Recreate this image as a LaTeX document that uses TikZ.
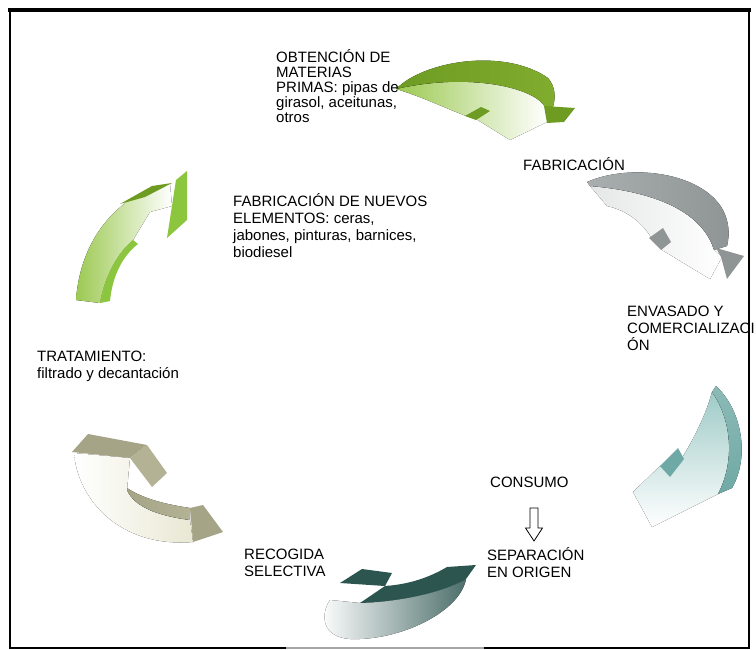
\documentclass[tikz,border=0pt]{standalone}
\usepackage{fontspec}
\setmainfont{Liberation Sans}
\usetikzlibrary{positioning}
\definecolor{leafTop}{HTML}{6E9B22}
\definecolor{leafTopR}{HTML}{80AD2E}
\definecolor{leafLight}{HTML}{9CC952}
\definecolor{leafBright}{HTML}{8CC63F}
\definecolor{stoneTop}{HTML}{A9AEAE}
\definecolor{stoneDark}{HTML}{8F9595}
\definecolor{tealSide}{HTML}{6FA9A5}
\definecolor{tealLight}{HTML}{9FCBC7}
\definecolor{tealDeep}{HTML}{2C5550}
\definecolor{khakiTop}{HTML}{A6A487}
\definecolor{khakiSide}{HTML}{B4B294}
\definecolor{khakiPale}{HTML}{E9E8D4}

\begin{document}
\begin{tikzpicture}[x=1pt, y=-1pt,
        lbl/.style={anchor=north west, inner sep=0pt, align=left, font=\fontsize{15}{17}\selectfont},
        tight/.style={font=\fontsize{15}{15}\selectfont}]
        \useasboundingbox (0,0) rectangle (756,650);
        \fill[white] (0,0) rectangle (756,650);

        % Green arrow at the top
        \fill[left color=leafLight, right color=white] (396,89) .. controls (470,72) and (535,88) .. (546,106) -- (547,122) -- (510,140) -- (476,119) -- (466,116) .. controls (445,108) and (420,96) .. (396,89) -- cycle;
        \fill[left color=leafTop, right color=leafTopR] (396,89) .. controls (425,60) and (505,48) .. (548,78) .. controls (555,86) and (556,97) .. (553,107) -- (545,107) .. controls (535,88) and (470,72) .. (396,89) -- cycle;
        \fill[leafTop] (544,106) -- (575,108) -- (564,122) -- (547,123) -- cycle;
        \fill[leafTop] (465,116) -- (481,107) -- (490,111) -- (476,120) -- cycle;

        % Grey arrow
        \fill[left color=stoneTop!30, right color=white] (590,186) .. controls (660,192) and (703,214) .. (714,250) -- (722,257) -- (710,279) -- (662,250) -- (651,237) .. controls (640,220) and (625,210) .. (607,206) -- cycle;
        \fill[left color=stoneTop, right color=stoneDark] (587,182) .. controls (630,163) and (702,172) .. (723,210) .. controls (729,222) and (730,234) .. (727,246) -- (714,250) .. controls (703,214) and (660,192) .. (590,186) -- cycle;
        \fill[stoneDark] (716,248) -- (744,256) -- (727,279) -- (721,257) -- cycle;
        \fill[stoneDark] (649,238) -- (663,228) -- (671,242) -- (661,250) -- cycle;

        % Teal arrow
        \fill[top color=tealLight, bottom color=white] (712,392) .. controls (732,420) and (735,462) .. (718,494) -- (652,527) -- (633,492) -- (660,466) -- (682,458) .. controls (693,440) and (706,415) .. (712,392) -- cycle;
        \fill[top color=tealSide!80, bottom color=tealSide] (716,386) .. controls (742,410) and (750,457) .. (732,488) -- (718,494) .. controls (735,462) and (732,420) .. (712,392) -- cycle;
        \fill[tealSide] (660,466) -- (678,448) -- (684,459) -- (670,477) -- cycle;

        % Dark teal arrow at the bottom
        \fill[left color=white, right color=tealDeep!85] (466,579) .. controls (460,612) and (400,641) .. (350,639) .. controls (322,637) and (320,615) .. (330,600) -- (360,603) .. controls (395,602) and (440,594) .. (466,579) -- cycle;
        \fill[tealDeep] (385,586) .. controls (415,584) and (435,574) .. (447,567) -- (476,565) -- (466,579) .. controls (440,594) and (395,602) .. (360,603) -- cycle;
        \fill[tealDeep] (340,583) -- (362,569) -- (392,573) -- (385,586) -- cycle;

        % Khaki arrow
        \fill[left color=white, right color=khakiPale] (74,453) .. controls (78,500) and (120,548) .. (193,542) -- (190,520) .. controls (160,516) and (135,508) .. (127,490) -- (130,458) -- cycle;
        \fill[left color=khakiTop, right color=khakiSide] (127,488) .. controls (145,500) and (170,505) .. (190,508) -- (190,520) .. controls (160,516) and (135,508) .. (127,490) -- cycle;
        \fill[khakiTop] (190,508) -- (203,505) -- (223,532) -- (193,542) -- cycle;
        \fill[khakiTop] (72,452) -- (88,434) -- (147,445) -- (130,458) -- cycle;
        \fill[khakiSide] (130,458) -- (147,445) -- (167,473) -- (152,487) -- cycle;

        % Green arrow on the left
        \fill[left color=leafLight, right color=white] (76,300) .. controls (80,245) and (110,205) .. (152,188) -- (170,184) -- (172,206) -- (150,212) -- (133,240) .. controls (115,255) and (104,280) .. (100,303) -- cycle;
        \fill[leafBright] (133,240) .. controls (115,255) and (104,280) .. (100,303) -- (110,301) .. controls (112,280) and (120,258) .. (138,244) -- cycle;
        \fill[leafTop] (120,204) -- (152,186) -- (172,183) -- (145,197) -- cycle;
        \fill[leafBright] (176,180) -- (187,171) -- (187,220) -- (167,238) -- cycle;

        % Labels
        \node[lbl, tight] (raw) at (276,49) {OBTENCIÓN DE\\MATERIAS\\PRIMAS: pipas de\\girasol, aceitunas,\\otros};
        \node[lbl] (fab) at (523,157) {FABRICACIÓN};
        \node[lbl] (newuse) at (233,193) {FABRICACIÓN DE NUEVOS\\ELEMENTOS: ceras,\\jabones, pinturas, barnices,\\biodiesel};
        \node[lbl] (pack) at (627,306) {ENVASADO Y\\COMERCIALIZACI\\ÓN};
        \node[lbl] (treat) at (37,351) {TRATAMIENTO:\\filtrado y decantación};
        \node[lbl] (use) at (490,477) {CONSUMO};
        \node[lbl] (sep) at (487,547) {SEPARACIÓN\\EN ORIGEN};
        \node[lbl] (collect) at (244,549) {RECOGIDA\\SELECTIVA};

        % Hollow arrow from consumption to separation
        \coordinate (down) at (534,508);
        \draw[line width=0.8pt, line join=miter] (down) ++(-4,0) -- ++(0,20) -- ++(-4.5,0) -- ++(8.5,13) -- ++(8.5,-13) -- ++(-4.5,0) -- ++(0,-20) -- cycle;

        % Frame
        \draw[line width=2pt] (10,10) rectangle (749,648);
        \draw[line width=2pt, gray!70] (286,648) -- (484,648);
        \draw[line width=3.5pt] (8,10) -- (751,10);
    \end{tikzpicture}
\end{document}
